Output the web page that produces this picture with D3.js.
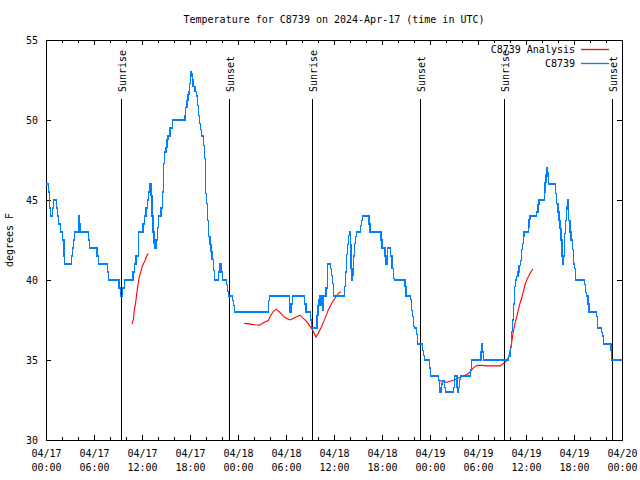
<!DOCTYPE html>
<html><head><meta charset="utf-8">
<script src="https://cdn.jsdelivr.net/npm/d3@7"></script>
<style>
html,body{margin:0;padding:0;background:#fff;}
svg text{font-family:"DejaVu Sans Mono","Liberation Mono",monospace;font-size:10px;fill:#000;}
</style></head><body>
<svg id="chart" width="640" height="480"></svg>
<script>
const title = "Temperature for C8739 on 2024-Apr-17 (time in UTC)";
const yLabel = "degrees F";
const seriesNames = ["C8739 Analysis", "C8739"];
const seriesColors = ["#ff0000", "#0080ff"];
const yTicks = [30, 35, 40, 45, 50, 55];
const startDate = Date.UTC(2024, 3, 17, 0, 0);
const spanHours = 72;

const sunHours = [9.41, 22.91, 33.29, 46.79, 57.29, 70.79];
const sunLabels = ["Sunrise", "Sunset", "Sunrise", "Sunset", "Sunrise", "Sunset"];

// Observed C8739 temperature (hours since 04/17 00:00 UTC, deg F)
const blueHours = [
  0.00,0.29,0.41,0.54,0.79,0.94,1.29,1.46,1.59,1.81,
  2.09,2.25,2.29,3.21,3.29,3.41,3.56,4.04,4.13,4.25,
  5.34,5.44,6.38,6.54,7.69,7.81,9.13,9.29,9.59,9.79,
  10.88,11.06,11.25,11.54,12.13,12.31,12.50,12.66,12.84,13.00,
  13.13,13.25,13.38,13.50,13.63,13.75,13.91,14.09,14.38,14.60,
  14.66,14.71,14.79,15.00,15.13,15.25,15.50,15.79,17.38,17.46,
  17.63,17.75,17.88,17.96,18.04,18.13,18.19,18.29,18.38,18.63,
  18.79,18.96,19.09,19.21,19.29,19.41,19.66,19.79,19.91,19.96,
  20.09,20.21,20.34,20.50,20.63,20.75,20.91,21.04,21.56,21.73,
  21.88,22.04,22.56,22.69,22.81,23.31,23.44,23.56,27.85,27.98,
  30.41,30.50,30.71,30.79,32.35,32.50,33.10,33.23,33.88,34.00,
  34.13,34.25,34.38,34.46,34.54,34.63,35.00,35.19,35.56,35.69,
  35.84,35.96,37.35,37.48,37.60,37.73,37.85,37.94,38.06,38.13,
  38.25,38.35,38.41,38.54,38.66,38.79,39.34,39.46,39.56,40.38,
  40.50,41.88,42.00,42.38,42.50,42.71,43.09,43.25,43.44,43.59,
  44.88,45.00,45.59,45.71,45.84,45.96,46.06,46.31,46.48,47.04,
  47.16,47.29,47.91,48.04,49.04,49.16,49.25,49.48,49.56,49.79,
  49.91,50.91,51.04,51.38,51.50,51.59,51.69,51.81,53.09,53.21,
  54.38,54.46,54.56,54.69,57.81,58.04,58.19,58.31,58.44,58.56,
  58.69,58.81,59.00,59.13,59.31,59.44,59.56,59.65,59.75,60.29,
  60.38,60.50,61.34,61.50,61.63,62.29,62.38,62.50,62.59,62.65,
  62.71,62.81,63.66,63.84,64.00,64.13,64.25,64.38,64.50,64.59,
  64.66,64.79,64.96,65.09,65.16,65.25,65.34,65.50,65.63,65.79,
  65.96,66.09,66.21,67.29,67.41,67.59,67.75,67.88,68.79,68.91,
  69.46,69.59,69.71,70.63,70.71,72.00
];
const blueTemps = [
  46,45.5,44.5,44,44.5,45,44.5,44,43.5,43,
  42.5,41.5,41,41.5,42,42.5,43,44,43.5,43,
  42.5,42,41.5,41,40.5,40,39.5,39,39.5,40,
  40.5,41,41.5,43,43.5,44,44.5,45,45.5,46,
  45.3,44,43,42.3,42,42.5,43.3,44,44.5,45.5,
  46.5,47.3,48,48.3,48.8,49,49.5,50,50.3,50.8,
  51.2,51.6,51.8,52.3,53,52.7,52.9,52.5,52.1,51.8,
  51.5,50.9,50.3,49.8,49.4,49,48.4,47.6,46.6,45.4,
  44.8,43.7,42.7,42.2,41.8,41.3,40.6,40,40.5,41,
  40.5,40,39.7,39.3,39,38.7,38.4,38,38.7,39,
  38.5,38,38.5,39,38.5,38,37.5,37,37.8,38.4,
  38.8,39,38.4,39,38.1,39,39.5,41,40.7,40.3,
  39.8,39,39.6,40.5,41.6,42.2,42.8,43,42.2,40.7,
  40,40.3,41.5,42.3,42.7,43,43.4,43.7,44,43.5,
  43,42.5,42,41.5,41,42,41.5,40.7,40.1,40,
  39.6,39,38.8,38.1,37.7,37.1,37,36.6,36,35.6,
  35.3,35,34.5,34,33.7,33.3,33,33.5,33.7,33.3,
  33,33.3,34,33.3,33,33.3,33.8,34,34.4,35,
  35.5,36,35.5,35,35.2,35.8,36.8,37.5,38.5,39.6,
  40,40.2,40.5,40.9,41.2,41.9,42.3,42.7,43,43.3,
  43.8,44,44.25,44.7,45,45.5,46.1,46.6,47,46.5,
  46.7,46,45.4,44.8,44.25,43.7,43.2,42.5,41.5,41,
  41.5,42.9,43.7,44.6,45,44.4,43.7,43,42.5,41.9,
  41,40.7,40,39.7,39.2,39,38.5,38,37.7,37,
  36.7,36.5,36,35.6,35,35
];

// Analysis temperature (null separates segments)
const redHours = [
  10.75,10.91,11.04,11.21,11.34,11.50,11.66,11.84,12.00,12.16,12.38,12.59,12.79,
  null,
  24.75,25.29,26.13,26.75,26.96,27.38,27.79,28.00,28.41,28.79,
  29.25,29.66,30.09,30.50,30.91,31.34,31.75,32.16,32.59,33.00,
  33.41,33.75,34.04,34.46,34.88,35.29,35.71,36.13,36.54,36.84,
  null,
  49.04,49.34,49.66,50.09,50.50,50.91,51.34,51.75,52.16,52.59,
  53.00,53.21,53.50,53.84,54.25,55.09,55.91,56.75,57.09,57.50,
  57.79,58.00,58.21,58.41,58.63,58.84,59.04,59.25,59.46,59.66,
  59.88,60.09,60.29,60.50,60.71,60.84
];
const redTemps = [
  37.25,37.5,38.1,38.6,39.15,39.7,40.2,40.5,40.8,41.0,41.2,41.5,41.65,
  null,
  37.3,37.26,37.2,37.18,37.26,37.37,37.47,37.7,38.03,38.18,
  37.97,37.74,37.6,37.5,37.6,37.7,37.8,37.6,37.4,37.1,
  36.8,36.43,36.68,37.1,37.6,38.13,38.55,38.86,39.17,39.27,
  null,
  33.78,33.71,33.63,33.61,33.67,33.73,33.82,33.92,33.99,34.09,
  34.23,34.4,34.54,34.65,34.67,34.63,34.63,34.63,34.75,34.92,
  35.13,35.54,36.1,36.75,37.3,37.7,38.13,38.55,38.86,39.27,
  39.69,40.0,40.2,40.4,40.58,40.68
];

const toDate = h => new Date(startDate + h * 3600e3);
const svg = d3.select("#chart");
const L = 46, R = 622, T = 40, B = 440;

const x = d3.scaleUtc().domain([toDate(0), toDate(spanHours)]).range([L, R]);
const y = d3.scaleLinear().domain([30, 55]).range([B, T]);

const majorT = d3.range(0, spanHours + 1, 6).map(toDate);
const minorT = d3.range(0, spanHours + 1, 2).filter(h => h % 6 !== 0).map(toDate);

// title
svg.append("text").attr("x", (L + R) / 2).attr("y", 23).attr("text-anchor", "middle").text(title);

// y label
svg.append("text").attr("transform", "translate(13,240) rotate(-90)").attr("text-anchor", "middle").text(yLabel);

// axes
const axG = svg.append("g").attr("shape-rendering", "crispEdges");
const fmtD = d3.utcFormat("%m/%d"), fmtT = d3.utcFormat("%H:%M");

const xb = axG.append("g").attr("transform", `translate(0,${B})`)
  .call(d3.axisBottom(x).tickValues(majorT).tickSizeInner(-5).tickSizeOuter(0).tickPadding(12));
xb.selectAll(".tick text").each(function(d) {
  const t = d3.select(this); t.text(null).attr("y", 17).attr("dy", null);
  t.append("tspan").attr("x", 0).text(fmtD(d));
  t.append("tspan").attr("x", 0).attr("dy", 14).text(fmtT(d));
});
axG.append("g").attr("transform", `translate(0,${B})`)
  .call(d3.axisBottom(x).tickValues(minorT).tickSizeInner(-3).tickSizeOuter(0).tickFormat(""));
axG.append("g").attr("transform", `translate(0,${T})`)
  .call(d3.axisTop(x).tickValues(majorT).tickSizeInner(-5).tickSizeOuter(0).tickFormat(""));
axG.append("g").attr("transform", `translate(0,${T})`)
  .call(d3.axisTop(x).tickValues(minorT).tickSizeInner(-3).tickSizeOuter(0).tickFormat(""));
axG.append("g").attr("transform", `translate(${L},0)`)
  .call(d3.axisLeft(y).tickValues(yTicks).tickSizeInner(-5).tickSizeOuter(0).tickPadding(8));
axG.append("g").attr("transform", `translate(${R},0)`)
  .call(d3.axisRight(y).tickValues(yTicks).tickSizeInner(-5).tickSizeOuter(0).tickFormat(""));
axG.selectAll(".domain").remove();
axG.selectAll(".tick line").attr("stroke", "#000");
axG.selectAll("text").attr("font-family", null).attr("font-size", null);
axG.append("rect").attr("x", L).attr("y", T).attr("width", R - L).attr("height", B - T)
  .attr("fill", "none").attr("stroke", "#000");

// sunrise/sunset markers
const sun = svg.append("g");
sunHours.forEach((h, i) => {
  const sx = x(toDate(h));
  sun.append("line").attr("x1", sx).attr("x2", sx).attr("y1", 99).attr("y2", B)
    .attr("stroke", "#000").attr("shape-rendering", "crispEdges");
  sun.append("text").attr("transform", `translate(${sx + 5},92) rotate(-90)`)
    .attr("text-anchor", "start").text(sunLabels[i]);
});

// data lines
const n = Math.min(blueHours.length, blueTemps.length);
const blueData = d3.range(n).map(i => ({t: toDate(blueHours[i]), v: blueTemps[i]}));
const redData = redHours.map((h, i) => ({t: h == null ? null : toDate(h), v: redTemps[i]}));

svg.append("path").datum(redData)
  .attr("fill", "none").attr("stroke", seriesColors[0]).attr("stroke-width", 1.1)
  .attr("d", d3.line().defined(d => d.v != null && d.t != null).x(d => x(d.t)).y(d => y(d.v)));

svg.append("path").datum(blueData)
  .attr("fill", "none").attr("stroke", seriesColors[1]).attr("stroke-width", 1.2)
  .attr("shape-rendering", "crispEdges")
  .attr("d", d3.line().curve(d3.curveStepAfter).x(d => x(d.t)).y(d => y(d.v)));

// legend
const leg = svg.append("g");
seriesNames.forEach((name, i) => {
  const ly = 49 + i * 14;
  leg.append("text").attr("x", 575).attr("y", ly + 3.5).attr("text-anchor", "end").text(name);
  leg.append("line").attr("x1", 581).attr("x2", 609).attr("y1", ly + 0.5).attr("y2", ly + 0.5)
    .style("stroke", seriesColors[i]).attr("stroke-width", 1.3);
});
</script>
</body></html>
